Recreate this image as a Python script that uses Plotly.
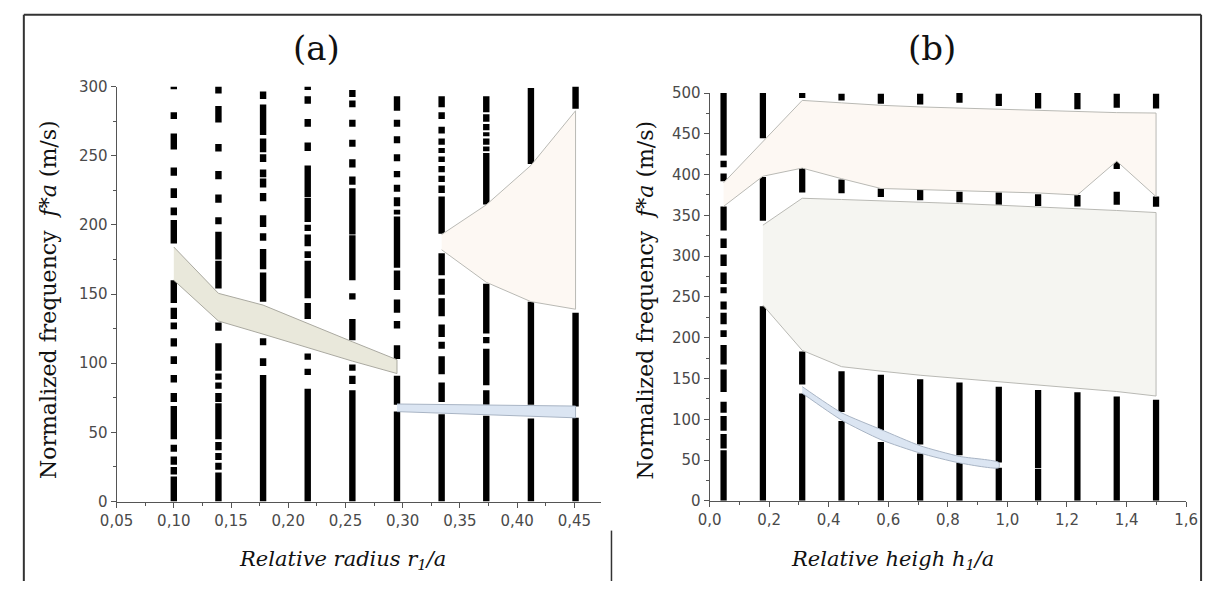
import plotly.graph_objects as go

# ---------------- panel (a): sweep of the relative radius r1/a ----------------
r_values = [0.100, 0.139, 0.178, 0.217, 0.256, 0.295, 0.334, 0.373, 0.412, 0.451]

# eigen-frequency runs (f*a, m/s) found at each radius, as (low, high) pairs
modes_r100 = [(0, 18), (19.5, 25), (26.5, 32.5), (36, 41), (45, 69), (72, 78.5), (86, 91.5),
              (99.5, 105), (112, 118), (124.5, 129.5), (132, 140), (143.5, 160), (186.5, 203.5),
              (207, 212.5), (219.5, 226.5), (235.5, 241.5), (254.5, 266), (276.5, 281.5), (298, 300)]
modes_r139 = [(0, 21), (23, 28), (30, 35), (37, 43), (45, 71), (72, 78.5), (81.5, 86), (88, 92.5),
              (94.5, 114.5), (123.5, 129.5), (154, 174), (175, 195), (200.5, 205.5), (216, 222),
              (233, 239), (253, 258.5), (274, 286), (295, 300)]
modes_r178 = [(0, 91.5), (98, 103.5), (113, 118), (144.5, 165.5), (168, 182.5), (188.5, 194),
              (198.5, 207), (217, 223), (227, 233.5), (234.5, 240), (245.5, 251), (252.5, 262.5),
              (265, 287), (291, 296.5)]
modes_r217 = [(0, 81.5), (91.5, 96), (102.5, 107), (132, 143.5), (147, 174), (176, 181), (184.5, 193),
              (195.5, 200), (202, 219.5), (220, 243), (253.5, 259.5), (271, 276.5), (287.5, 293),
              (297.5, 300)]
modes_r256 = [(0, 80.5), (85, 91), (94.5, 99), (116.5, 132), (146, 150.5), (160, 192.5), (193, 226.5),
              (229, 235), (241.5, 247.5), (256.5, 261.5), (271, 276), (285, 290), (292.5, 297.5)]
modes_r295 = [(0, 65), (70, 91), (103, 113), (125, 130.5), (136.5, 146), (153, 167), (169, 206),
              (207.5, 211), (213.5, 220), (224, 229), (234.5, 239), (246, 251), (259, 264),
              (271, 276), (282.5, 293)]
modes_r334 = [(0, 63), (72, 86), (92, 105), (110.5, 115.5), (119, 128), (134, 147), (149.5, 161),
              (163.5, 179.5), (193.5, 220.5), (223, 228.5), (231, 235.5), (238, 242.5), (245.5, 249.5),
              (252, 255.5), (258, 262.5), (266, 271), (276.5, 281.5), (285, 293)]
modes_r373 = [(0, 62), (70, 80.5), (84, 110.5), (114.5, 119), (121.5, 157.5), (214.7, 252),
              (253.2, 256.7), (258, 262.5), (264, 267), (268.5, 273), (274.5, 280), (281.5, 293)]
modes_r412 = [(0, 60), (70, 144.5), (244, 299)]
modes_r451 = [(0, 60.5), (68.7, 136.5), (284, 300)]

modes_a = [modes_r100, modes_r139, modes_r178, modes_r217, modes_r256,
           modes_r295, modes_r334, modes_r373, modes_r412, modes_r451]

# band gaps of panel (a)
gap_a1_r = [0.100, 0.139, 0.178, 0.217, 0.256, 0.295]
gap_a1_upper = [184, 150.5, 142, 128.5, 115.5, 102.5]
gap_a1_lower = [160, 130.5, 121, 111.5, 101.5, 92.5]

gap_a2_r = [0.295, 0.451]
gap_a2_upper = [70.5, 69]
gap_a2_lower = [65, 60.5]

gap_a3_r = [0.334, 0.373, 0.412, 0.451]
gap_a3_upper = [193, 214.5, 243, 282.5]
gap_a3_lower = [182, 158.5, 144.5, 139]

# ---------------- panel (b): sweep of the relative height h1/a ----------------
h_values = [0.047, 0.179, 0.311, 0.443, 0.575, 0.707, 0.839, 0.971, 1.103, 1.235, 1.367, 1.499]

modes_h047 = [(0, 62), (64, 82), (86, 104), (108, 121.5), (133.5, 161), (167, 191), (201, 209),
              (216.5, 230.5), (234.5, 244.5), (254.5, 262), (266, 280), (288, 302), (310, 321.5),
              (331.5, 361), (392, 401.5), (409, 417), (423.5, 500)]
modes_h179 = [(0, 238.5), (343.5, 397), (444.5, 500)]
modes_h311 = [(0, 131.5), (142.6, 183), (378, 409), (494, 500)]
modes_h443 = [(0, 98), (109, 159), (377, 394), (491, 499)]
modes_h575 = [(0, 72), (86, 154.5), (372.5, 383), (487, 499)]
modes_h707 = [(0, 58), (69, 149), (368.5, 381), (486, 499)]
modes_h839 = [(0, 47), (56, 145), (366, 379), (488, 500)]
modes_h971 = [(0, 40.5), (47, 140), (363, 378), (484, 499)]
modes_h1103 = [(0, 39), (40, 136), (361.5, 376), (481, 500)]
modes_h1235 = [(0, 133), (361, 375), (480, 500)]
modes_h1367 = [(0, 128), (363, 379), (407, 417), (482, 499)]
modes_h1499 = [(0, 124), (360.5, 373), (481, 499)]

modes_b = [modes_h047, modes_h179, modes_h311, modes_h443, modes_h575, modes_h707,
           modes_h839, modes_h971, modes_h1103, modes_h1235, modes_h1367, modes_h1499]

# band gaps of panel (b)
gap_b1_h = h_values
gap_b1_upper = [390, 441, 491, 488, 485, 483, 481.5, 480, 478.5, 477, 476, 475.5]
gap_b1_lower = [361, 398, 408, 395, 383, 381.5, 380, 379, 377.5, 375, 416.5, 373]

gap_b2_h = h_values[1:]
gap_b2_upper = [338, 371, 369.5, 368, 366, 364.5, 362.5, 360.5, 358.5, 356, 353.5]
gap_b2_lower = [240, 184.5, 164.5, 159, 154, 150, 146, 141.5, 138, 134, 128.5]

gap_b3_h = [0.311, 0.443, 0.575, 0.707, 0.839, 0.971]
gap_b3_upper = [140, 108, 87.5, 67.5, 54.5, 47]
gap_b3_lower = [132, 99, 75, 58.5, 46.5, 40.5]

# ---------------- colours ----------------
BEIGE = "#e9e8db"
CREAM = "#fdf8f3"
PALE = "#f5f5f1"
BLUE = "#dbe5f2"
EDGE = "#b9b9b4"
BLUE_EDGE = "#a8b4c4"


def mode_columns(xs, mode_lists, width, xa, ya):
    """Black vertical runs: one bar per (low, high) frequency interval."""
    x, base, length = [], [], []
    for xv, runs in zip(xs, mode_lists):
        for lo, hi in runs:
            x.append(xv)
            base.append(lo)
            length.append(hi - lo)
    return go.Bar(x=x, y=length, base=base, width=width,
                  marker=dict(color="black", line=dict(width=0)),
                  xaxis=xa, yaxis=ya, hoverinfo="skip", showlegend=False)


def gap_band(xs, upper, lower, fill, edge, xa, ya, shape="linear"):
    xs = list(xs)
    line = dict(color=edge, width=1, shape=shape)
    if shape == "spline":
        line["smoothing"] = 0.6
    return go.Scatter(x=xs + xs[::-1], y=list(upper) + list(lower)[::-1],
                      mode="lines", fill="toself", fillcolor=fill, line=line,
                      xaxis=xa, yaxis=ya, hoverinfo="skip", showlegend=False)


fig = go.Figure()

# panel (a)
fig.add_trace(mode_columns(r_values, modes_a, 0.0056, "x", "y"))
fig.add_trace(gap_band(gap_a1_r, gap_a1_upper, gap_a1_lower, BEIGE, "#aaa9a0", "x", "y"))
fig.add_trace(gap_band(gap_a2_r, gap_a2_upper, gap_a2_lower, BLUE, BLUE_EDGE, "x", "y"))
fig.add_trace(gap_band(gap_a3_r, gap_a3_upper, gap_a3_lower, CREAM, EDGE, "x", "y"))

# panel (b)
fig.add_trace(mode_columns(h_values, modes_b, 0.021, "x2", "y2"))
fig.add_trace(gap_band(gap_b1_h, gap_b1_upper, gap_b1_lower, CREAM, EDGE, "x2", "y2"))
fig.add_trace(gap_band(gap_b2_h, gap_b2_upper, gap_b2_lower, PALE, EDGE, "x2", "y2"))
fig.add_trace(gap_band(gap_b3_h, gap_b3_upper, gap_b3_lower, BLUE, BLUE_EDGE, "x2", "y2", "spline"))

W, H = 1216, 590
AX = "#555555"
tickfont = dict(family="DejaVu Sans", size=15, color="#4a4a4a")
common = dict(showline=True, linecolor=AX, linewidth=1, ticks="outside", ticklen=5,
              tickcolor=AX, tickfont=tickfont, showgrid=False, zeroline=False, mirror=False)


def minor(step):
    return dict(dtick=step, ticks="outside", ticklen=3, tickcolor=AX, showgrid=False)


fig.update_layout(
    width=W, height=H, autosize=False,
    margin=dict(l=0, r=0, t=0, b=0),
    paper_bgcolor="white", plot_bgcolor="white",
    barmode="overlay", showlegend=False, hovermode=False,
    separators=", ",
    xaxis=dict(domain=[102 / W, 598 / W], range=[0.05, 0.473], tick0=0.05, dtick=0.05,
               tickformat=".2f", minor=minor(0.025), anchor="y", **common),
    yaxis=dict(domain=[1 - 508 / H, 1 - 80 / H], range=[0, 300], tick0=0, dtick=50,
               minor=minor(25), anchor="x", **common),
    xaxis2=dict(domain=[709.5 / W, 1197.7 / W], range=[0, 1.6], tick0=0, dtick=0.2,
                tickformat=".1f", minor=minor(0.1), anchor="y2", **common),
    yaxis2=dict(domain=[1 - 507.3 / H, 1 - 86.7 / H], range=[0, 500], tick0=0, dtick=50,
                minor=minor(25), anchor="x2", **common),
)

serif = "DejaVu Serif"
ytitle = "Normalized frequency  <i>f*a</i> (m/s)"
annotations = [
    dict(text="(a)", x=307 / W, y=1 - 40 / H, font=dict(family=serif, size=34, color="#111")),
    dict(text="(b)", x=937 / W, y=1 - 40 / H, font=dict(family=serif, size=34, color="#111")),
    dict(text=ytitle, x=33 / W, y=1 - 300 / H, textangle=-90,
         font=dict(family=serif, size=22, color="#111")),
    dict(text=ytitle, x=644 / W, y=1 - 300 / H, textangle=-90,
         font=dict(family=serif, size=22, color="#111")),
    dict(text="<i>Relative radius r<sub>1</sub>/a</i>", x=333 / W, y=1 - 568 / H,
         font=dict(family=serif, size=21, color="#111")),
    dict(text="<i>Relative heigh h<sub>1</sub>/a</i>", x=897 / W, y=1 - 568 / H,
         font=dict(family=serif, size=21, color="#111")),
]
for a in annotations:
    a.update(xref="paper", yref="paper", showarrow=False, xanchor="center", yanchor="middle")
fig.update_layout(annotations=annotations)

# page frame lines
frame = dict(color="#333333", width=2)
fig.update_layout(shapes=[
    dict(type="line", xref="paper", yref="paper", x0=7 / W, x1=1213 / W, y0=1 - 6 / H, y1=1 - 6 / H, line=frame),
    dict(type="line", xref="paper", yref="paper", x0=7 / W, x1=7 / W, y0=0, y1=1 - 6 / H, line=frame),
    dict(type="line", xref="paper", yref="paper", x0=1213 / W, x1=1213 / W, y0=0, y1=1 - 6 / H, line=frame),
    dict(type="line", xref="paper", yref="paper", x0=609 / W, x1=609 / W, y0=0, y1=1 - 538 / H,
         line=dict(color="#333333", width=1.5)),
])

fig.write_html("out.html")
